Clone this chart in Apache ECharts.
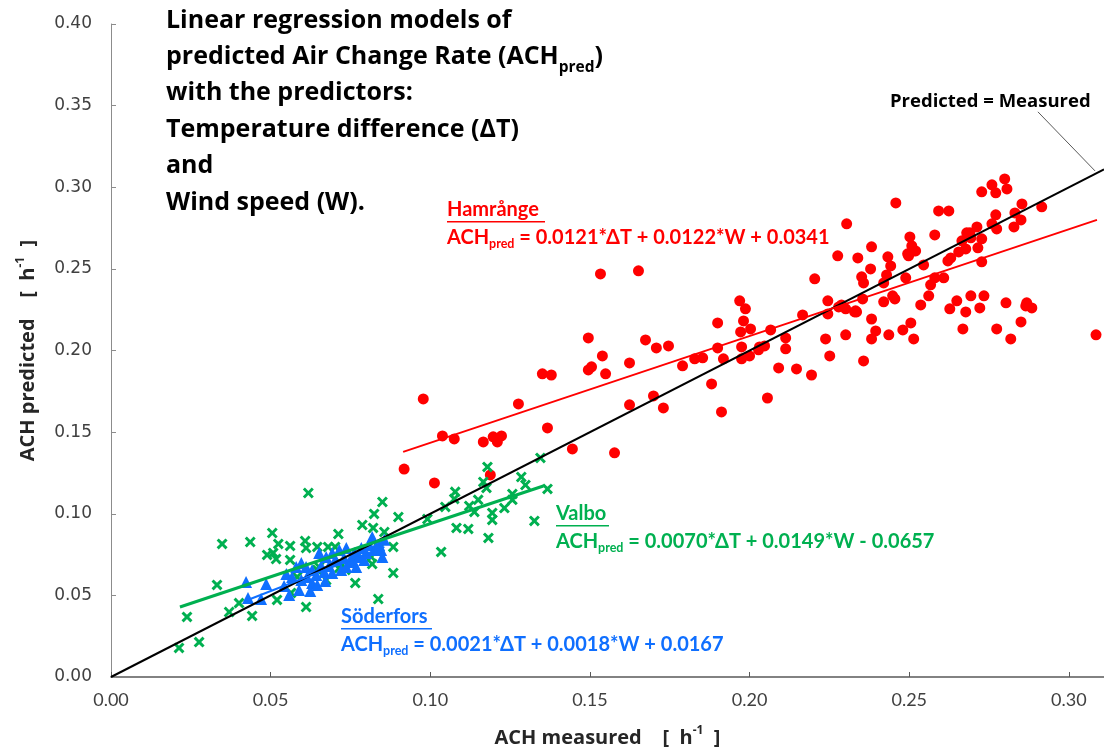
<!DOCTYPE html>
<html><head><meta charset="utf-8">
<script src="https://cdn.jsdelivr.net/npm/echarts@6/dist/echarts.min.js"></script>
<style>html,body{margin:0;padding:0;background:#fff}#c{width:1104px;height:751px}</style>
</head><body><div id="c"></div>
<script>
// ---- data (ACH measured, ACH predicted) ----
const hamrange = [
[0.0918,0.1274],[0.0978,0.1703],[0.1013,0.1189],[0.1038,0.1477],[0.1075,0.1458],[0.1166,0.1440],[0.1188,0.1238],[0.1197,0.1471],[0.1223,0.1477],[0.1210,0.1440],
[0.1276,0.1673],[0.1351,0.1857],[0.1379,0.1850],[0.1367,0.1526],[0.1445,0.1397],[0.1495,0.2077],[0.1495,0.1881],[0.1505,0.1900],[0.1533,0.2469],[0.1539,0.1967],
[0.1549,0.1857],[0.1577,0.1373],[0.1624,0.1924],[0.1624,0.1667],[0.1652,0.2488],[0.1674,0.2065],[0.1699,0.1722],[0.1708,0.2016],[0.1730,0.1648],[0.1746,0.2028],
[0.1790,0.1906],[0.1828,0.1949],[0.1853,0.1955],[0.1881,0.1795],[0.1900,0.2169],[0.1900,0.2016],[0.1912,0.1624],[0.1918,0.1949],[0.1969,0.2304],[0.1987,0.2255],
[0.1981,0.2181],[0.1972,0.2114],[0.2003,0.2132],[0.1975,0.2022],[0.1975,0.1949],[0.2000,0.1967],[0.2028,0.2004],[0.2031,0.2022],[0.2047,0.2028],[0.2066,0.2126],
[0.2113,0.2077],[0.2113,0.2010],[0.2091,0.1893],[0.2056,0.1709],[0.2147,0.1887],[0.2194,0.1850],[0.2166,0.2218],[0.2204,0.2439],[0.2245,0.2304],[0.2245,0.2224],
[0.2238,0.2071],[0.2251,0.1967],[0.2279,0.2267],[0.2301,0.2255],[0.2301,0.2096],[0.2304,0.2776],[0.2276,0.2580],[0.2332,0.2243],[0.2335,0.2236],[0.2357,0.1936],
[0.2382,0.2193],[0.2395,0.2120],[0.2382,0.2071],[0.2354,0.2316],[0.2357,0.2414],[0.2351,0.2451],[0.2339,0.2567],[0.2379,0.2500],[0.2382,0.2635],[0.2420,0.2414],
[0.2429,0.2463],[0.2433,0.2574],[0.2442,0.2518],[0.2420,0.2298],[0.2448,0.2335],[0.2455,0.2316],[0.2436,0.2096],[0.2458,0.2904],[0.2480,0.2126],[0.2489,0.2445],
[0.2495,0.2592],[0.2498,0.2580],[0.2502,0.2696],[0.2508,0.2641],[0.2514,0.2610],[0.2520,0.2610],[0.2505,0.2169],[0.2514,0.2071],[0.2536,0.2279],[0.2545,0.2524],
[0.2561,0.2335],[0.2567,0.2402],[0.2580,0.2708],[0.2580,0.2445],[0.2608,0.2445],[0.2592,0.2855],[0.2624,0.2855],[0.2627,0.2255],[0.2649,0.2304],[0.2655,0.2604],
[0.2621,0.2549],[0.2630,0.2567],[0.2668,0.2132],[0.2677,0.2236],[0.2677,0.2622],[0.2665,0.2672],[0.2680,0.2721],[0.2690,0.2721],[0.2693,0.2690],[0.2712,0.2757],
[0.2715,0.2629],[0.2727,0.2543],[0.2727,0.2684],[0.2693,0.2335],[0.2721,0.2261],[0.2734,0.2335],[0.2727,0.2972],[0.2759,0.3015],[0.2771,0.2966],[0.2799,0.3051],
[0.2806,0.2990],[0.2771,0.2831],[0.2759,0.2776],[0.2774,0.2745],[0.2774,0.2132],[0.2803,0.2292],[0.2818,0.2071],[0.2828,0.2757],[0.2831,0.2843],[0.2853,0.2898],
[0.2850,0.2800],[0.2850,0.2175],[0.2868,0.2292],[0.2865,0.2273],[0.2884,0.2261],[0.2915,0.2880],[0.3085,0.2096],[0.2288,0.2279],[0.2329,0.2236]
];
const valbo = [
[0.0213,0.0178],[0.0238,0.0368],[0.0276,0.0214],[0.0332,0.0564],[0.0348,0.0815],[0.0370,0.0398],[0.0401,0.0453],[0.0436,0.0827],[0.0442,0.0374],[0.0489,0.0748],
[0.0505,0.0882],[0.0508,0.0760],[0.0517,0.0723],[0.0524,0.0815],[0.0520,0.0472],[0.0561,0.0803],[0.0561,0.0717],[0.0564,0.0515],[0.0608,0.0833],[0.0611,0.0790],
[0.0611,0.0429],[0.0618,0.1127],[0.0646,0.0797],[0.0652,0.0674],[0.0674,0.0594],[0.0680,0.0797],[0.0702,0.0797],[0.0712,0.0876],[0.0715,0.0668],[0.0734,0.0656],
[0.0765,0.0576],[0.0787,0.0931],[0.0815,0.0735],[0.0818,0.0692],[0.0821,0.0913],[0.0824,0.0999],[0.0837,0.0478],[0.0850,0.1072],[0.0856,0.0888],[0.0884,0.0797],
[0.0884,0.0637],[0.0900,0.0980],[0.0991,0.0968],[0.1034,0.0766],[0.1047,0.1042],[0.1075,0.1091],[0.1078,0.1134],[0.1082,0.0913],[0.1119,0.0907],[0.1122,0.1048],
[0.1138,0.1011],[0.1150,0.1085],[0.1166,0.1195],[0.1176,0.1158],[0.1179,0.1287],[0.1182,0.0852],[0.1194,0.1005],[0.1194,0.0962],[0.1232,0.1035],[0.1257,0.1121],
[0.1257,0.1085],[0.1285,0.1225],[0.1298,0.1176],[0.1326,0.0956],[0.1345,0.1342],[0.1367,0.1152],[0.0583,0.0613],[0.0646,0.0656],[0.0718,0.0698],[0.0771,0.0741],
[0.0840,0.0790]
];
const soderfors = [
[0.0423,0.0582],[0.0429,0.0484],[0.0470,0.0478],[0.0486,0.0570],[0.0542,0.0558],[0.0549,0.0631],[0.0558,0.0502],[0.0567,0.0613],[0.0580,0.0674],[0.0596,0.0698],
[0.0596,0.0594],[0.0611,0.0674],[0.0614,0.0613],[0.0630,0.0656],[0.0630,0.0576],[0.0643,0.0625],[0.0646,0.0564],[0.0652,0.0760],[0.0658,0.0680],[0.0668,0.0643],
[0.0674,0.0735],[0.0683,0.0680],[0.0693,0.0760],[0.0693,0.0637],[0.0702,0.0717],[0.0715,0.0778],[0.0721,0.0656],[0.0730,0.0729],[0.0737,0.0790],[0.0737,0.0674],
[0.0746,0.0705],[0.0755,0.0717],[0.0762,0.0760],[0.0768,0.0674],[0.0777,0.0735],[0.0784,0.0790],[0.0793,0.0717],[0.0799,0.0760],[0.0809,0.0809],[0.0818,0.0858],
[0.0824,0.0778],[0.0831,0.0797],[0.0840,0.0809],[0.0846,0.0778],[0.0850,0.0735],[0.0856,0.0840],[0.0624,0.0527],[0.0589,0.0533],[0.0671,0.0588]
];
// regression / reference lines (endpoints)
const lineEqual = [[0, 0], [0.311, 0.311]];
const lineHamrange = [[0.0915, 0.1379], [0.3088, 0.2800]];
const lineValbo = [[0.0216, 0.0429], [0.1354, 0.1170]];
const lineSoderfors = [[0.0426, 0.0470], [0.0856, 0.0797]];
const leader = [[0.2903, 0.3462], [0.3082, 0.3100]];
const xTicks = {min: 0, max: 0.311, interval: 0.05};
const yTicks = {min: 0, max: 0.40, interval: 0.05};

const RED = '#FF0000', GREEN = '#00B050', BLUE = '#0F6FFF';
const NF = "Lato,'Open Sans',sans-serif";
const OF = "'Open Sans',Lato,sans-serif";
const XPATH = 'path://M0,1.9 L1.9,0 L5,3.1 L8.1,0 L10,1.9 L6.9,5 L10,8.1 L8.1,10 L5,6.9 L1.9,10 L0,8.1 L3.1,5 Z';

function tok(size, color, extra, fam) {
  return Object.assign({fontFamily: fam || NF, fontWeight: 'bold', fontSize: size, fill: color, color: color}, extra || {});
}
function eqText(x, y, title, eq, color, ulw) {
  return [
    {type: 'text', left: x, top: y - 10, style: {text: title, fill: color, font: 'bold 20px ' + NF}},
    {type: 'rect', left: x, top: y + 11, shape: {width: ulw, height: 1.5}, style: {fill: color}},
    {type: 'text', left: x, top: y + 18, style: {
      text: '{a|ACH}{s|pred}{a| = ' + eq + '}',
      rich: {a: tok(20, color, {lineHeight: 24}), s: tok(12.5, color, {lineHeight: 10, verticalAlign: 'bottom'})}
    }}
  ];
}
const nameRich = {n: tok(20, '#262626', {lineHeight: 26}, OF), p: tok(12, '#262626', {lineHeight: 12, verticalAlign: 'top'}, OF)};

const chart = echarts.init(document.getElementById('c'), null, {renderer: 'canvas'});
const option = {
  animation: false,
  backgroundColor: '#fff',
  grid: {left: 111, right: 0, top: 24, bottom: 74, containLabel: false, outerBoundsMode: 'none'},
  xAxis: {
    type: 'value', min: xTicks.min, max: xTicks.max, interval: xTicks.interval,
    name: '{n|ACH measured    [  h}{p|-1}{n|  ]}', nameLocation: 'middle', nameGap: 48,
    nameTextStyle: {rich: nameRich},
    axisLine: {lineStyle: {color: '#595959', width: 1.5}},
    axisTick: {inside: true, length: 5, lineStyle: {color: '#595959'}},
    splitLine: {show: false},
    axisLabel: {formatter: v => v.toFixed(2), showMaxLabel: false, fontFamily: NF, fontSize: 18, color: '#404040', margin: 14}
  },
  yAxis: {
    type: 'value', min: yTicks.min, max: yTicks.max, interval: yTicks.interval,
    name: '{n|ACH predicted    [  h}{p|-1}{n|  ]}', nameLocation: 'middle', nameGap: 70, nameRotate: 90,
    nameTextStyle: {rich: nameRich},
    axisLine: {show: true, lineStyle: {color: '#8c8c8c', width: 1}},
    axisTick: {show: true, inside: true, length: 5, lineStyle: {color: '#8c8c8c'}},
    splitLine: {show: false},
    axisLabel: {formatter: v => v.toFixed(2), fontFamily: "'DejaVu Sans',sans-serif", fontSize: 17, color: '#404040', margin: 19}
  },
  series: [
    {type: 'scatter', name: 'Hamrånge', data: hamrange, symbol: 'circle', symbolSize: 11, itemStyle: {color: RED, opacity: 1}, z: 2},
    {type: 'scatter', name: 'Valbo', data: valbo, symbol: XPATH, symbolSize: 11, itemStyle: {color: GREEN, opacity: 1}, z: 2},
    {type: 'scatter', name: 'Söderfors', data: soderfors, symbol: 'triangle', symbolSize: 12, itemStyle: {color: BLUE, opacity: 1}, z: 3},
    {type: 'line', data: lineEqual, symbol: 'none', lineStyle: {color: '#000', width: 2}, z: 4},
    {type: 'line', data: lineHamrange, symbol: 'none', lineStyle: {color: RED, width: 2}, z: 4},
    {type: 'line', data: lineValbo, symbol: 'none', lineStyle: {color: GREEN, width: 3}, z: 4},
    {type: 'line', data: lineSoderfors, symbol: 'none', lineStyle: {color: BLUE, width: 2}, z: 4},
    {type: 'line', data: leader, symbol: 'none', lineStyle: {color: '#595959', width: 1}, z: 4}
  ],
  graphic: [
    {type: 'text', left: 166, top: 8, style: {
      text: '{a|Linear regression models of}\n{a|predicted Air Change Rate (ACH}{s|pred}{a|)}\n{a|with the predictors:}\n{a|Temperature difference (ΔT)}\n{a|and}\n{a|Wind speed (W).}',
      rich: {a: tok(25, '#000', {lineHeight: 36.4}, OF), s: tok(15.5, '#000', {lineHeight: 20, verticalAlign: 'bottom'}, OF)}
    }},
    {type: 'text', left: 890, top: 92, style: {text: 'Predicted = Measured', fill: '#000', font: 'bold 18.5px ' + OF}},
    ...eqText(447, 210, 'Hamrånge', '0.0121*ΔT + 0.0122*W + 0.0341', RED, 98),
    ...eqText(556, 514, 'Valbo', '0.0070*ΔT + 0.0149*W - 0.0657', GREEN, 53),
    ...eqText(341, 617, 'Söderfors', '0.0021*ΔT + 0.0018*W + 0.0167', BLUE, 91)
  ]
};
chart.setOption(option);
</script>
</body></html>
